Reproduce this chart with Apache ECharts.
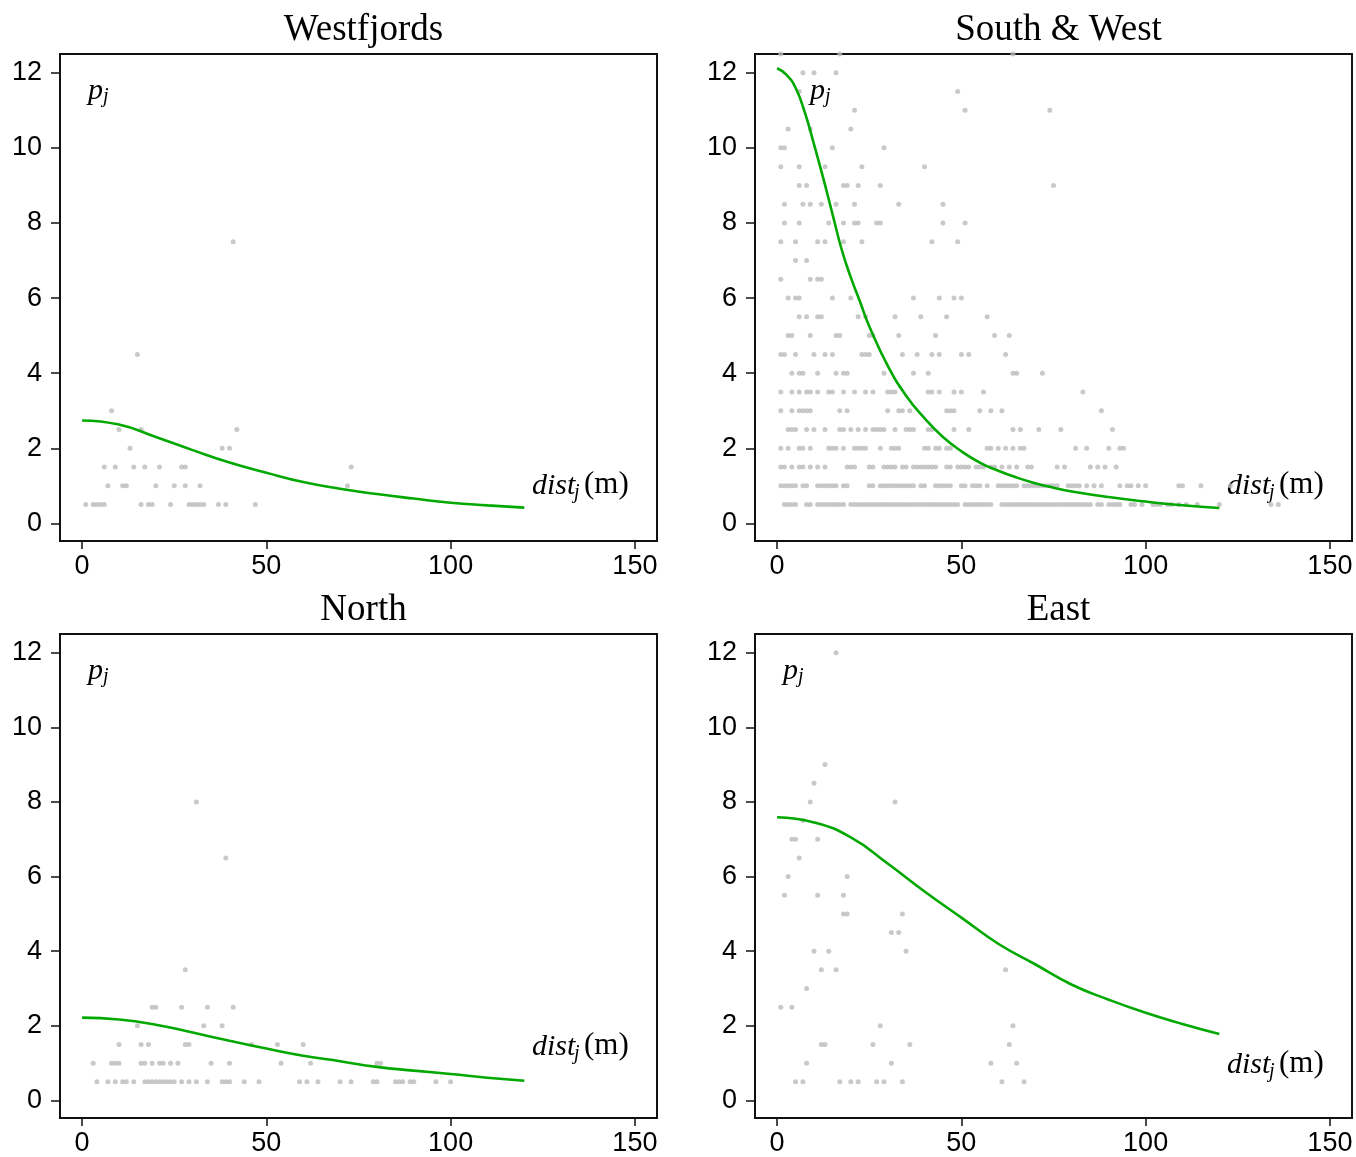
<!DOCTYPE html>
<html>
<head>
<meta charset="utf-8">
<script src="https://cdn.jsdelivr.net/npm/echarts@6/dist/echarts.min.js"></script>
<style>
html, body { margin: 0; padding: 0; background: #fff; }
#chart { width: 1356px; height: 1157px; }
</style>
</head>
<body>
<div id="chart"></div>
<script>
// panel names
var panelTitles = ['Westfjords', 'South & West', 'North', 'East'];
var xTicks = [0, 50, 100, 150];
var yTicks = [0, 2, 4, 6, 8, 10, 12];

// observed points, grouped by p_j value: [p, [dist, dist, ...]]
var westRows = [
    [0.5, [1, 3, 4, 5, 6, 16, 18, 19, 24, 29, 30, 31, 32, 33, 37, 39, 47]],
    [1, [7, 11, 12, 20, 25, 28, 32, 72]],
    [1.5, [6, 9, 14, 17, 21, 27, 28, 73]],
    [2, [13, 38, 40]],
    [2.5, [10, 16, 42]],
    [3, [8]],
    [4.5, [15]],
    [7.5, [41]]
];
var southWestRows = [
    [12.5, [1, 17, 64]],
    [12, [7, 10, 16]],
    [11.5, [6, 49]],
    [11, [21, 51, 74]],
    [10.5, [3, 9, 20]],
    [10, [1, 2, 15, 29]],
    [9.5, [1, 6, 13, 23, 40]],
    [9, [6, 8, 18, 19, 22, 28, 75]],
    [8.5, [2, 7, 9, 12, 16, 21, 33, 45]],
    [8, [2, 6, 14, 18, 21, 22, 27, 28, 45, 51]],
    [7.5, [1, 5, 11, 13, 18, 23, 42, 49]],
    [7, [5, 8]],
    [6.5, [1, 9, 11, 12]],
    [6, [3, 5, 6, 15, 20, 37, 44, 48, 50]],
    [5.5, [6, 8, 11, 12, 22, 24, 32, 39, 46, 57]],
    [5, [3, 4, 9, 16, 17, 25, 26, 33, 43, 59, 63]],
    [4.5, [1, 2, 5, 10, 13, 15, 23, 24, 25, 34, 38, 42, 44, 50, 52, 62]],
    [4, [4, 6, 7, 11, 16, 18, 19, 29, 37, 41, 64, 65, 72]],
    [3.5, [1, 4, 6, 8, 9, 11, 14, 15, 18, 21, 24, 26, 30, 31, 32, 41, 42, 44, 48, 50, 56, 83]],
    [3, [1, 4, 6, 7, 8, 9, 17, 19, 30, 33, 34, 36, 46, 47, 48, 55, 58, 61, 88]],
    [2.5, [3, 4, 5, 8, 10, 13, 17, 18, 20, 22, 24, 26, 27, 28, 29, 32, 35, 36, 37, 41, 42, 48, 52, 64, 66, 71, 77, 91]],
    [2, [1, 3, 6, 7, 9, 14, 15, 16, 18, 21, 22, 23, 24, 28, 31, 32, 33, 40, 41, 43, 44, 46, 47, 57, 58, 60, 62, 64, 66, 67, 81, 84, 90, 93, 94]],
    [1.5, [1, 2, 4, 6, 7, 9, 11, 13, 19, 20, 21, 25, 26, 29, 30, 31, 32, 34, 35, 37, 38, 39, 40, 41, 42, 43, 46, 47, 49, 50,
        51, 52, 54, 55, 56, 58, 59, 61, 63, 65, 68, 69, 76, 78, 85, 87, 89, 92]],
    [1, [1, 2, 3, 4, 5, 7, 8, 11, 12, 13, 14, 15, 16, 18, 19, 25, 26, 28, 29, 30, 31, 32, 33, 34, 35, 36, 37, 39, 40, 43,
        44, 45, 46, 47, 50, 51, 53, 54, 55, 57, 60, 61, 62, 63, 64, 65, 67, 68, 69, 70, 71, 72, 73, 74, 75, 76, 79, 80, 81, 82,
        84, 86, 88, 93, 95, 96, 98, 100, 109, 110, 115, 123]],
    [0.5, [2, 3, 4, 5, 8, 9, 11, 12, 13, 14, 15, 16, 17, 18, 20, 21, 22, 23, 24, 25, 26, 27, 28, 29, 30, 31, 32, 33, 34, 35,
        36, 37, 38, 39, 40, 41, 42, 43, 44, 45, 46, 47, 48, 49, 51, 52, 53, 54, 55, 56, 57, 58, 61, 62, 63, 64, 65, 66, 67, 68,
        69, 70, 71, 72, 73, 74, 75, 76, 77, 78, 79, 80, 81, 82, 83, 84, 85, 87, 88, 90, 91, 92, 93, 96, 97, 99, 102, 103, 104, 106,
        107, 109, 111, 114, 120, 134, 136]]
];
var northRows = [
    [0.5, [4, 7, 9, 11, 12, 14, 17, 18, 19, 20, 21, 22, 23, 24, 25, 27, 29, 31, 34, 38, 39, 40, 44, 48, 59, 61, 64, 70, 73,
        79, 80, 85, 86, 87, 89, 90, 96, 100]],
    [1, [3, 8, 9, 10, 16, 17, 19, 21, 22, 24, 26, 35, 40, 54, 62, 80, 81]],
    [1.5, [10, 16, 18, 28, 29, 46, 53, 60]],
    [2, [15, 33, 38]],
    [2.5, [19, 20, 27, 34, 41]],
    [3.5, [28]],
    [6.5, [39]],
    [8, [31]]
];
var eastRows = [
    [12, [16]],
    [9, [13]],
    [8.5, [10]],
    [8, [9, 32]],
    [7.5, [7]],
    [7, [4, 5, 11]],
    [6.5, [6]],
    [6, [3, 19]],
    [5.5, [2, 11, 18]],
    [5, [18, 19, 34]],
    [4.5, [31, 33]],
    [4, [10, 14, 35]],
    [3.5, [12, 16, 62]],
    [3, [8]],
    [2.5, [1, 4]],
    [2, [28, 64]],
    [1.5, [12, 13, 26, 36, 63]],
    [1, [8, 31, 58, 65]],
    [0.5, [5, 7, 17, 20, 22, 27, 29, 34, 61, 67]]
];

// fitted curves
var westCurveX = [0, 10, 20, 30, 40, 50, 60, 70, 80, 90, 100, 110, 120];
var westCurveY = [2.74, 2.63, 2.30, 1.95, 1.62, 1.35, 1.10, 0.92, 0.78, 0.66, 0.55, 0.48, 0.42];
var southWestCurveX = [0, 2.5, 5, 7.5, 10, 12.5, 15, 17.5, 20, 22.5, 25, 30, 35, 40, 45, 50, 55, 60, 65, 70, 75, 80, 90, 100, 110, 120];
var southWestCurveY = [12.12, 11.95, 11.6, 10.95, 10.1, 9.2, 8.25, 7.3, 6.55, 5.9, 5.25, 4.2, 3.4, 2.8, 2.3, 1.92, 1.62, 1.40,
    1.22, 1.07, 0.95, 0.85, 0.70, 0.58, 0.48, 0.41];
var northCurveX = [0, 10, 20, 30, 40, 50, 60, 70, 80, 90, 100, 110, 120];
var northCurveY = [2.22, 2.17, 2.03, 1.82, 1.60, 1.39, 1.20, 1.05, 0.90, 0.80, 0.71, 0.61, 0.53];
var eastCurveX = [0, 10, 20, 30, 40, 50, 60, 70, 80, 90, 100, 110, 120];
var eastCurveY = [7.59, 7.45, 7.05, 6.35, 5.6, 4.9, 4.2, 3.65, 3.1, 2.7, 2.35, 2.05, 1.78];

var allRows = [westRows, southWestRows, northRows, eastRows];
var allCurveX = [westCurveX, southWestCurveX, northCurveX, eastCurveX];
var allCurveY = [westCurveY, southWestCurveY, northCurveY, eastCurveY];

var boxes = [
    {left: 60, top: 54, pX: 28, distY: 432},
    {left: 755, top: 54, pX: 55, distY: 432},
    {left: 60, top: 634, pX: 28, distY: 413},
    {left: 755, top: 634, pX: 28, distY: 431}
];
var boxW = 597, boxH = 487;

var sans = '"Liberation Sans", Arial, sans-serif';
var serif = '"Liberation Serif", "Times New Roman", serif';

var grids = [], xAxes = [], yAxes = [], series = [], titles = [], graphics = [];

boxes.forEach(function (b, i) {
    grids.push({
        left: b.left, top: b.top, width: boxW, height: boxH,
        show: true, borderColor: '#111', borderWidth: 2, backgroundColor: '#fff'
    });
    xAxes.push({
        type: 'value', gridIndex: i, min: -6, max: 156,
        axisLine: {show: true, onZero: false, lineStyle: {color: '#111', width: 2}},
        axisTick: {show: true, length: 8, customValues: xTicks, lineStyle: {color: '#111', width: 1.5}},
        axisLabel: {customValues: xTicks, color: '#000', fontSize: 27, fontFamily: sans, margin: 12},
        splitLine: {show: false}
    });
    yAxes.push({
        type: 'value', gridIndex: i, min: -0.47, max: 12.5,
        axisLine: {show: true, onZero: false, lineStyle: {color: '#111', width: 2}},
        axisTick: {show: true, length: 9, customValues: yTicks, lineStyle: {color: '#111', width: 1.5}},
        axisLabel: {customValues: yTicks, color: '#000', fontSize: 27, fontFamily: sans, margin: 18},
        splitLine: {show: false}
    });

    var pts = [];
    allRows[i].forEach(function (row) {
        row[1].forEach(function (d) { pts.push([d, row[0]]); });
    });
    series.push({
        type: 'scatter', xAxisIndex: i, yAxisIndex: i, data: pts,
        symbol: 'circle', symbolSize: 5, itemStyle: {color: '#bbbbbb'}, z: 2
    });
    series.push({
        type: 'line', xAxisIndex: i, yAxisIndex: i,
        data: allCurveX[i].map(function (x, k) { return [x, allCurveY[i][k]]; }),
        smooth: true, showSymbol: false,
        lineStyle: {color: '#00a800', width: 2.6}, z: 3
    });

    titles.push({
        text: panelTitles[i], left: b.left + boxW / 2, top: b.top - 47, textAlign: 'center',
        textStyle: {fontFamily: serif, fontSize: 37, fontWeight: 'normal', color: '#000'}
    });

    graphics.push({
        type: 'group', left: b.left + b.pX, top: b.top + 22,
        children: [
            {type: 'text', x: 0, y: 0, style: {text: 'p', font: 'italic 30px ' + serif, fill: '#000'}},
            {type: 'text', x: 15, y: 11, style: {text: 'j', font: 'italic 20px ' + serif, fill: '#000'}}
        ]
    });
    graphics.push({
        type: 'group', left: b.left + 472, top: b.top + b.distY - 17,
        children: [
            {type: 'text', x: 0, y: 0, style: {text: 'dist', font: 'italic 30px ' + serif, fill: '#000'}},
            {type: 'text', x: 42, y: 12, style: {text: 'j', font: 'italic 20px ' + serif, fill: '#000'}},
            {type: 'text', x: 52, y: -2, style: {text: '(m)', font: '31px ' + serif, fill: '#000'}}
        ]
    });
});

var chart = echarts.init(document.getElementById('chart'));
chart.setOption({
    backgroundColor: '#fff',
    animation: false,
    title: titles,
    grid: grids,
    xAxis: xAxes,
    yAxis: yAxes,
    series: series,
    graphic: graphics
});
</script>
</body>
</html>
